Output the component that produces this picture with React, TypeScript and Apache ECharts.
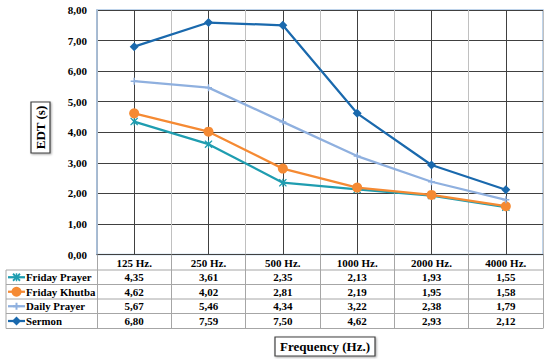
import React, { useEffect, useRef } from "react";
import * as echarts from "echarts";

const categories = ["125 Hz.", "250 Hz.", "500 Hz.", "1000 Hz.", "2000 Hz.", "4000 Hz."];
const fridayPrayer = [4.35, 3.61, 2.35, 2.13, 1.93, 1.55];
const fridayKhutba = [4.62, 4.02, 2.81, 2.19, 1.95, 1.58];
const dailyPrayer = [5.67, 5.46, 4.34, 3.22, 2.38, 1.79];
const sermon = [6.8, 7.59, 7.5, 4.62, 2.93, 2.12];
const seriesNames = ["Friday Prayer", "Friday Khutba", "Daily Prayer", "Sermon"];
const yMin = 0;
const yMax = 8;
const yInterval = 1;

const FONT = "Liberation Serif";
const COLORS = ["#1f9db0", "#f58a33", "#8fb0df", "#1a69ad"];
const ASTERISK =
  "path://M1,0 L5,3.6 L9,0 L10,1 L6.4,5 L10,9 L9,10 L5,6.4 L1,10 L0,9 L3.6,5 L0,1 Z M4.3,0 L5.7,0 L5.7,10 L4.3,10 Z";
const PLUS = "path://M4,0 L6,0 L6,4 L10,4 L10,6 L6,6 L6,10 L4,10 L4,6 L0,6 L0,4 L4,4 Z";

const fmt = (v: number) => v.toFixed(2).replace(".", ",");

export default function App() {
  const ref = useRef<HTMLDivElement>(null);
  useEffect(() => {
    if (!ref.current) return;
    const chart = echarts.init(ref.current, null, { renderer: "svg" });
    const gridLeft = 97;
    const gridTop = 10;
    const gridWidth = 446;
    const gridHeight = 244.5;
    const values = [fridayPrayer, fridayKhutba, dailyPrayer, sermon];
    const symbols = [ASTERISK, "circle", PLUS, "diamond"];
    const sizes = [8, 10, 7, 9];
    chart.setOption({
      animation: false,
      backgroundColor: "#ffffff",
      textStyle: { fontFamily: FONT },
      grid: { left: gridLeft, top: gridTop, width: gridWidth, height: gridHeight, show: true, borderColor: "#a9c5e4", borderWidth: 1.5, backgroundColor: "transparent" },
      xAxis: [
        {
          type: "category",
          data: categories,
          boundaryGap: true,
          axisLine: { show: true, lineStyle: { color: "#404040", width: 1 } },
          axisTick: { show: true, interval: 0, length: 74, lineStyle: { color: "#a6a6a6" } },
          axisLabel: { interval: 0, margin: 3, color: "#000", fontFamily: FONT, fontWeight: "bold", fontSize: 11 },
          splitLine: { show: true, interval: 0, lineStyle: { color: "#c0c0c0", width: 1 } },
        },
        {
          type: "category",
          data: categories,
          position: "bottom",
          boundaryGap: true,
          axisLine: { show: false },
          axisLabel: { show: false },
          axisTick: { show: true, inside: true, alignWithLabel: true, interval: 0, length: gridHeight, lineStyle: { color: "#404040", width: 1 } },
          splitLine: { show: false },
        },
      ],
      yAxis: {
        type: "value",
        min: yMin,
        max: yMax,
        interval: yInterval,
        axisLine: { show: true, lineStyle: { color: "#9fb6d0", width: 1.5 } },
        axisTick: { show: false },
        axisLabel: { formatter: (v: number) => fmt(v), margin: 10, color: "#000", fontFamily: FONT, fontWeight: "bold", fontSize: 11 },
        splitLine: { show: true, lineStyle: { color: "#404040", width: 1 } },
      },
      series: seriesNames.map((name, i) => ({
        name,
        type: "line",
        xAxisIndex: 0,
        data: values[i],
        symbol: symbols[i],
        symbolSize: sizes[i],
        showAllSymbol: true,
        lineStyle: { color: COLORS[i], width: 2.25 },
        itemStyle: { color: COLORS[i] },
        z: 3 + i,
      })),
    });

    const xs = categories.map((c) => chart.convertToPixel({ xAxisIndex: 0 }, c) as number);
    const rowLines = [270, 284.5, 299, 313.5, 328.5];
    const tableLeft = 6;
    const tableRight = gridLeft + gridWidth;
    const graphic: any[] = [];
    rowLines.forEach((y) => {
      graphic.push({ type: "line", shape: { x1: tableLeft, y1: y, x2: tableRight, y2: y }, style: { stroke: "#a6a6a6", lineWidth: 1 }, silent: true });
    });
    graphic.push({ type: "line", shape: { x1: tableLeft, y1: rowLines[0], x2: tableLeft, y2: rowLines[4] }, style: { stroke: "#a6a6a6", lineWidth: 1 } });
    seriesNames.forEach((name, i) => {
      const cy = (rowLines[i] + rowLines[i + 1]) / 2;
      const col = COLORS[i];
      graphic.push({ type: "line", shape: { x1: 8, y1: cy, x2: 25, y2: cy }, style: { stroke: col, lineWidth: 2.25 } });
      const mx = 16.5;
      if (i === 0) {
        graphic.push({ type: "line", shape: { x1: mx - 3.5, y1: cy - 3.5, x2: mx + 3.5, y2: cy + 3.5 }, style: { stroke: col, lineWidth: 1.8 } });
        graphic.push({ type: "line", shape: { x1: mx - 3.5, y1: cy + 3.5, x2: mx + 3.5, y2: cy - 3.5 }, style: { stroke: col, lineWidth: 1.8 } });
        graphic.push({ type: "line", shape: { x1: mx, y1: cy - 4, x2: mx, y2: cy + 4 }, style: { stroke: col, lineWidth: 1.5 } });
      } else if (i === 1) {
        graphic.push({ type: "circle", shape: { cx: mx, cy, r: 5 }, style: { fill: col } });
      } else if (i === 2) {
        graphic.push({ type: "line", shape: { x1: mx, y1: cy - 3.5, x2: mx, y2: cy + 3.5 }, style: { stroke: col, lineWidth: 2 } });
        graphic.push({ type: "line", shape: { x1: mx - 3.5, y1: cy, x2: mx + 3.5, y2: cy }, style: { stroke: col, lineWidth: 2 } });
      } else {
        graphic.push({ type: "polygon", shape: { points: [[mx, cy - 4.5], [mx + 4.5, cy], [mx, cy + 4.5], [mx - 4.5, cy]] }, style: { fill: col } });
      }
      graphic.push({ type: "text", style: { text: name, x: 26, y: cy, align: "left", verticalAlign: "middle", fontFamily: FONT, fontWeight: "bold", fontSize: 10.8, fill: "#000" } });
      values[i].forEach((v, j) => {
        graphic.push({ type: "text", style: { text: fmt(v), x: xs[j], y: cy, align: "center", verticalAlign: "middle", fontFamily: FONT, fontWeight: "bold", fontSize: 11, fill: "#000" } });
      });
    });
    // Y axis title box
    graphic.push({ type: "rect", shape: { x: 31, y: 102, width: 19, height: 51 }, style: { fill: "#ffffff", stroke: "#404040", lineWidth: 1.2, shadowBlur: 2, shadowColor: "rgba(0,0,0,0.35)", shadowOffsetX: 1, shadowOffsetY: 1 } });
    graphic.push({ type: "text", x: 40.5, y: 127.5, rotation: Math.PI / 2, style: { text: "EDT (s)", x: 0, y: 0, align: "center", verticalAlign: "middle", fontFamily: FONT, fontWeight: "bold", fontSize: 13, fill: "#000" } });
    // X axis title box
    graphic.push({ type: "rect", shape: { x: 275, y: 337, width: 100, height: 19 }, style: { fill: "#ffffff", stroke: "#404040", lineWidth: 1.2, shadowBlur: 2, shadowColor: "rgba(0,0,0,0.35)", shadowOffsetX: 1, shadowOffsetY: 1 } });
    graphic.push({ type: "text", style: { text: "Frequency (Hz.)", x: 325, y: 346.5, align: "center", verticalAlign: "middle", fontFamily: FONT, fontWeight: "bold", fontSize: 13, fill: "#000" } });
    chart.setOption({ graphic });
    return () => chart.dispose();
  }, []);
  return <div ref={ref} style={{ position: "fixed", left: 0, top: 0, width: 550, height: 359 }} />;
}
